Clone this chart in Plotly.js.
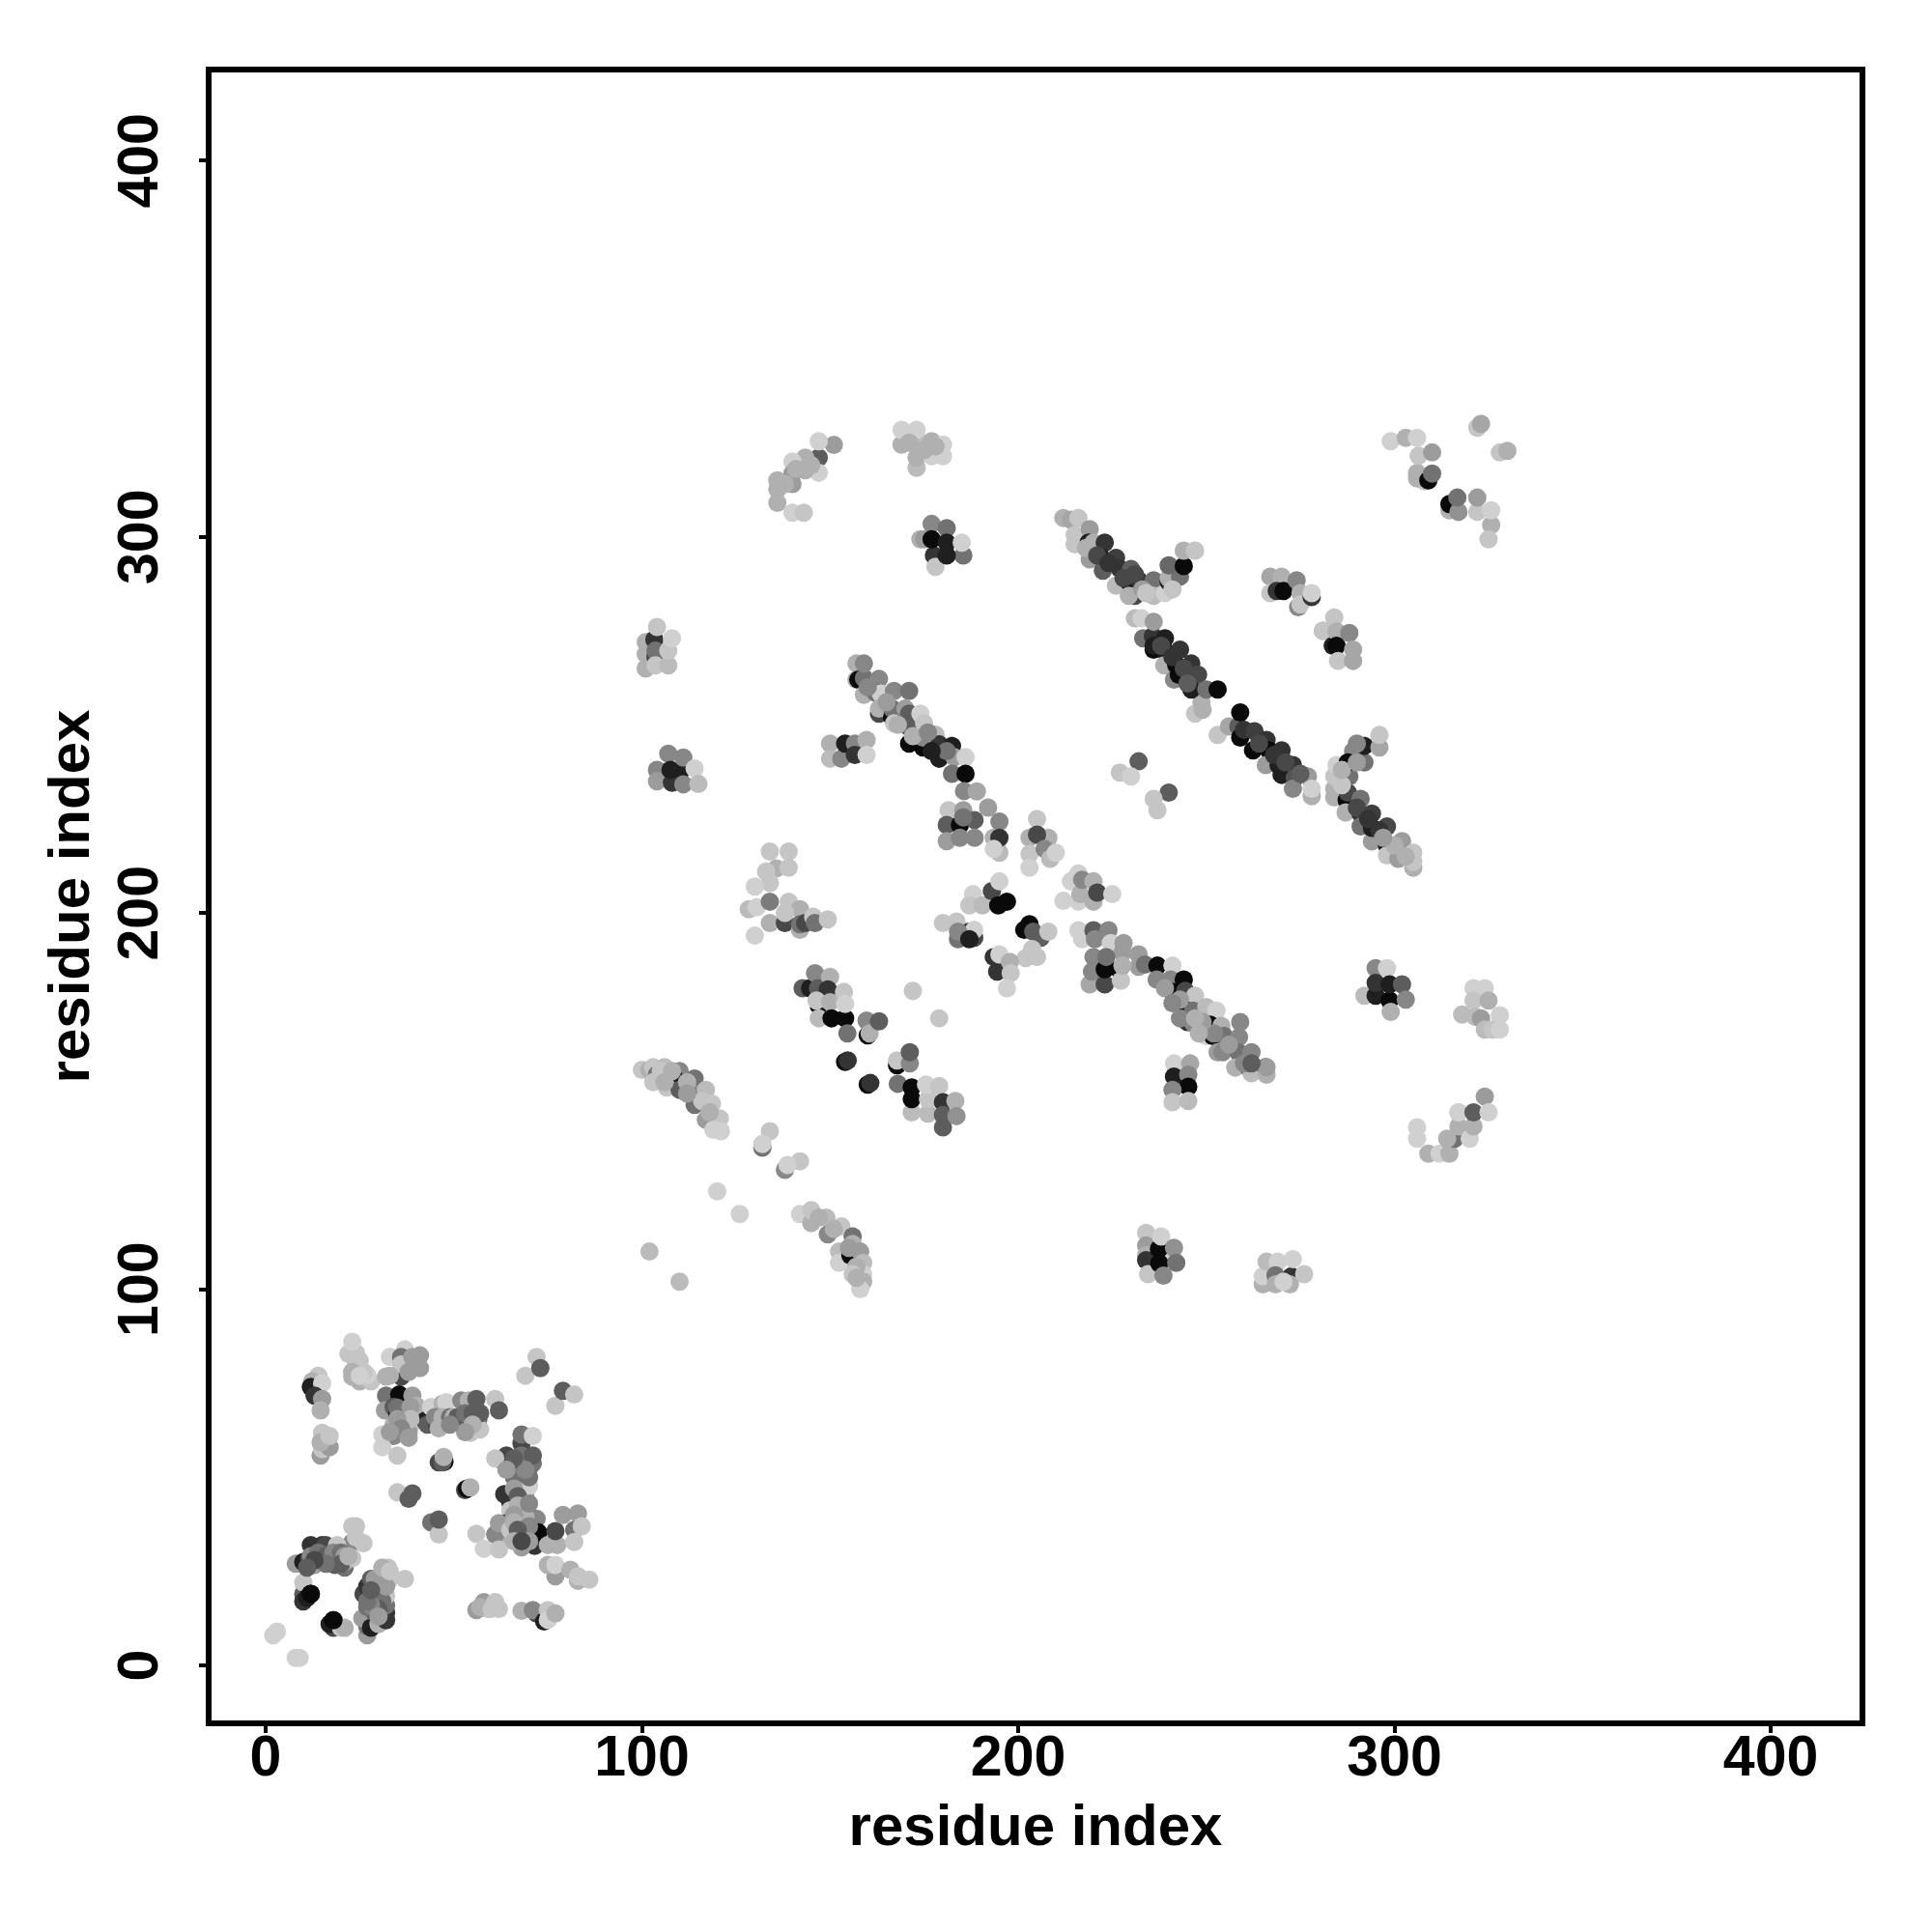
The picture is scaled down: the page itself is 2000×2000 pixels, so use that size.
<!DOCTYPE html>
<html>
<head>
<meta charset="utf-8">
<script src="https://cdn.plot.ly/plotly-3.0.1.min.js"></script>
<style>html,body{margin:0;padding:0;background:#fff}#chart{width:2000px;height:2000px}</style>
</head>
<body>
<div id="chart"></div>
<script>
// Every cluster: residue index on x, residue index on y, shade level (0 darkest .. 10 palest)
const lowA_x=[3,2,9,8, 10,10,10,11,12, 18,17,18,20,21];
const lowA_y=[9,8,2,2, 19,22,17,18,19, 10,11,12,10,10];
const lowA_s=[9.5,9.5,9.5,9.5, 4,9,2,1,0, 3,1,0,9,8];

const lowB_x=[27,27,27,25.7,28,30,29,27,29.5,32,32,32,26,27,29,28,29,31,33,32,37,32.5];
const lowB_y=[8,10.4,12.5,12.5,10,11,14,15.5,16,12,14,16,19,21,18,23,21,24,23,18.5,23,26];
const lowB_s=[7,5,7,7,1,8,4,5,2,2,2,5,3,2,5,4,9,8,9,9,9,9];

const lowC_x=[8,10,11.6,13,14,12,15,16,18.4,21,17,19,23,21,23,19,24,23,26];
const lowC_y=[27,27.5,28.4,26.7,28.4,32,32,32,26.7,26,29,28.4,32.7,27.5,28.5,32,37,37,32.5];
const lowC_s=[7,1,3,7,4,2,2,3,4,5,6,8,6,7,9,9,9,9,9];

const lowD_x=[14,12.4,12,15,13,15,14.6, 14.6,15,17,15,14.6,17];
const lowD_y=[77,75.5,74,75,71.7,70.8,67.8, 55.8,57.5,58,61.8,59.3,61];
const lowD_s=[9,8,1,9.5,2,7,8, 7,9,7,9,8,9];

const lowE_x=[25,28,23,27,22,24,25,23, 32,33,37,36,40.2,39,36,36,41];
const lowE_y=[75.5,75.5,76.8,77.2,82.8,83,81,86, 76.8,82,84,82,79.4,80.6,78,76.8,82.4];
const lowE_s=[8,9,8,9.5,9,9,9,9.5, 8,9.5,9.5,5,3,9,9,3,7];

const lowF_x=[32,35.5,31.7,34,35,38,39,40,34,38,39,38,34,31,31,35];
const lowF_y=[71.7,72,67.8,68.7,67,67.4,71.7,69,64,64,64.4,62,61,61.4,58,55.8];
const lowF_s=[5,0,7,4,1,1,7,8,8,1,9,7,6,9.5,9.5,9];

const lowG_x=[42.4,43,45.4,46,44,47,48,48.4,52,53,54,52,54,56,56,56.5,54.4,57,61,62];
const lowG_y=[65,64,64.4,66,68.7,69.5,70,65.3,66,63.5,64.4,70.4,70.4,68,70.8,65.3,61.8,62.7,70.8,67.8];
const lowG_s=[1,4,3,4,9.5,8,9.5,9,1,1,3,6,8,5,4,5,9,9,9,4];

const lowH_x=[69,72,73,77,79,82, 47.5,46,47,47.3, 53,53.5,54.4, 35,38,39, 44,46,46];
const lowH_y=[77,82,79,69,73,72, 54.1,54,54,55.4, 46.6,47,47.3, 46,44.3,45.7, 38,34.8,38.8];
const lowH_s=[9,9,4,9,4,9, 0,3,4,8, 3,0,8, 9,4,4, 5,9,4];

const lowI_x=[63.4,65,64,68,61,66.4,68,63.4,70,71,68,71,67,69,65,70];
const lowI_y=[54,43.4,55.8,59,55,53.3,55.8,45.5,52.4,53.7,49.4,55.8,48,45.5,41.2,47.7];
const lowI_s=[1,2,3,3,9,2,5,2,6,5,5,4,4,7,9,9.5];
const lowJ_x=[68,71,68,71.5,64,68,64,61,62,65,72,69,72.4,56,58,62,75,77.5];
const lowJ_y=[61.4,61,34.4,31.8,37.8,37,35,34.8,37.8,36,39,39.5,35.4,35,31,30.8,32,32];
const lowJ_s=[5,9.5,2,2,1,1,8,6,7,9,6,8,0,9,9.5,9,8,8];
const lowK_x=[68,77,79,83,82,84,82, 77,75,77,81,83,83,86];
const lowK_y=[31.4,35.7,40,40.4,36,37,32.8, 23.7,26.7,26.7,25.4,22.5,23.7,22.8];
const lowK_s=[7,3,7,7,5,9,9, 7,8,9.5,8,8,9,9];
const lowL_x=[56,58,59,61,62, 68,72,71,74,75,75,77];
const lowL_y=[14.7,16.8,15,16.8,15, 14.5,13.8,14.7,11.7,14.7,12.1,13.8];
const lowL_s=[7,7,9,9,9, 8,3,6,1,9,9.5,8];

const midA_x=[151,147,147,147,143.4,143.4,140,140,140,136,136,136,140,143];
const midA_y=[324.4,321,325.4,317,321,317.7,320,316.8,314,315,312.6,309,306.4,306.4];
const midA_s=[7,4,9.5,9.5,8,8,9.5,7,7,8,8,8,9.5,9];
const midB_x=[169,169,173,173,177,173,173,177,180,180];
const midB_y=[324.5,328.4,325.8,328.4,325.4,318.3,321,321.4,321.4,324.5];
const midB_s=[8,9.5,8.5,9.5,8,8.5,8,9.5,9.5,9.5];
const midC_x=[174,175,177,177.6,177,181,181,185.4,178,181,185];
const midC_y=[299.3,299.3,303.4,295,299.3,302.3,298.4,295,292,295,298.4];
const midC_s=[8,7,6,2,0,5,1,5,9,1,9.5];
const midD_x=[101,101,101,103.3,103.6,103.6,103.6,107,107,104,108];
const midD_y=[265,268.8,272,272.7,268,269.7,265.8,265.8,269.7,276,273];
const midD_s=[8,8,8,2,3,5,9,8.5,9,9,9.5];
const midE_x=[104,104,107,108,107.6,110.4,111,111,114,115];
const midE_y=[238,235,242.3,234.6,238,237.8,241.3,234.2,238.4,234.3];
const midE_s=[6,7,6,2,1,1,6,6,9.5,8.5];
const midF_x=[150,150,153,154,156.6,156.6,159.7,159.7];
const midF_y=[245,241,241,245,245,242,246,242];
const midF_s=[8,8.5,6,1,6,2,8,9.5];

const chainA_x=[157,157,157.5,159,159,159,163,162,163.5,167,171,163,163,166.5,166.5,167,170,171,170.6,171,174.7,174,175,174.7,178,179,179,182.4,183,186];
const chainA_y=[262,266.3,262,262.4,266.3,258,262.2,258.6,258.3,259,259,253,254.3,252,254.3,250.4,254.3,253,249.6,245,244,253,250.4,246.6,247.4,244.8,241,244.4,241.4,241.4];
const chainA_s=[8,8,0,5,6,8,6,5,9.5,6,5,3,8,0,5,9,7,4,4,0,0,9.5,9,6,8.5,2,1,1,7,9.5];
const chainB_x=[182.4,186,185.6,189,192,195,193.5,195,195,193.5];
const chainB_y=[237,237,232.4,232.3,228,224.3,220,216,220,217];
const chainB_s=[5,0,6,7.5,7,6,8,8.5,2,9.5];
const chainC_x=[181.5,185.4,181,184.5,188.4,181,184.5,188.4,185.4];
const chainC_y=[227.3,227.3,223.4,223.4,224.7,219.1,220,220,225.4];
const chainC_s=[9,7,4,0,4,7,6,6,5];
const chainD_x=[205,203,208,203,205,203,207,208.5,210];
const chainD_y=[225,220,220,215.7,220.8,212,217,214.4,216];
const chainD_s=[9,8,8,9,3,9.5,6,8.5,9.5];

const mid2A_x=[134,139,135.7,139,133,134,130,128.4,130.5,134,139,142,134,138,138,142,142,143.4,145.5,146,149.4,130];
const mid2A_y=[216.3,216.3,211.8,212,211,208,207,201,201.5,203,203,201,197.3,197.3,200,195.5,197,197.3,199,197.3,198.3,194];
const mid2A_s=[9,9,8,9,9,9,9.5,8.5,9.5,5.5,9,8,8,3,9,8,5,3,9,5,9,9.5];
const mid2B_x=[142.7,144.7,146,146.8,150,149.4,147,147,146.4,150,150.4,154,153.7,154,154.6,159.7,160,160.5,163];
const mid2B_y=[180,180,184,180,183,179.7,175.4,172,176.7,176.3,172,172,179,175.8,168,171.4,167.5,168,171.2];
const mid2B_s=[4,1,6,4,8,2,0,8.5,9,8,0,0,9,9.5,5,6,0,8,4];
const mid2C_x=[172,179, 154,154.7, 160,160.7, 167.8,167.8,171.2,171.2];
const mid2C_y=[179.3,172, 160.4,160.8, 154.4,154.8, 159.5,160.8,160,163];
const mid2C_s=[9,9, 0,2, 0,2, 0,9,6,4];
const mid2D_x=[168,171.7,171.7,171.7,176,176,175.5,179,180,180,180,183.3,183.6];
const mid2D_y=[154.6,147,150.5,153.6,146.7,150.5,154.4,154,149.7,143,146.3,150,146];
const mid2D_s=[5,8.5,0,0,8.5,9,9.5,9,2,4,4,8,6.5];

const lineA_x=[100,102,103,104,106,110,108.7,106.6,110,114,114,117,114,118.6,117,120.7,119,121];
const lineA_y=[158.3,158.3,159,157,159,158,156,153.6,153,156,152,153,149,149.3,145,145.4,142.4,142];
const lineA_s=[9,8,9,5,8.5,6,1,9,4,5,6,8.5,5,9,7,9,9.5,9.5];
const lineB_x=[134,132,132, 138,142,138.7, 120,126,102,110];
const lineB_y=[142,137.6,138.6, 131.7,134,133, 126,120,110,102];
const lineB_s=[9,5,9.5, 6,9,9.5, 9.5,9.5,8.5,8.5];
const lineC_x=[142,145,145,149,149.4,153,156,152.4,152.4,155.4,156,158,158.8,158.8,158.8,158];
const lineC_y=[120,117.6,121,119,114.6,116.7,114,110,107,109,112,110,107,104,102,100];
const lineC_s=[9.5,8,9,8.5,6,9,5,8.5,9.5,0,8,7,8.5,9.5,8,9.5];

const upperA_x=[180,183.6,184,187,188.3,188.3,184,187];
const upperA_y=[197.3,197.7,193,195,193.4,195.5,195,193];
const upperA_s=[9,9,5,2,3,9.5,6,1];
const upperB_x=[188,187,190.5,193,195,194.7,197];
const upperB_y=[205,202,202,205.8,208.4,202,203];
const upperB_s=[9.5,9,8.5,3,9.5,0,0];
const upperC_x=[201.6,203,204,206,208,202,203.7,205];
const upperC_y=[195.5,197,195,193.4,195,188,190.4,188.3];
const upperC_s=[0,0,4,4,9,9,9,9];
const upperD_x=[193.5,194.4,195,197.8,198,197];
const upperD_y=[188.3,184.4,189,187,184,180];
const upperD_s=[2,2,9.5,8,9,9.5];

const east1_x=[212,214,216,216,216.5,217,220,220,221,225];
const east1_y=[203.2,208.4,210.5,203,205,208.8,208.4,203,205.4,205];
const east1_s=[9.5,9.5,9.5,9.5,8,6,8,8,3,9.5];
const east2_x=[216,217,220,220.4,224,224.6,228,227.7,232,232,233.7,237,241];
const east2_y=[195.4,193,195.4,193,195.4,192,192,189.5,189,185.7,186.3,186,186];
const east2_s=[9.5,9.5,4,6,6,9.5,7,7,7,7,5,0,9.5];
const east3_x=[219,219.6,220,223,223,223.4,226.8,227.3,227.7];
const east3_y=[181,184.4,188.3,181,185,188.3,185,182,186];
const east3_s=[7.5,6,6,3,0,5,0,9,8];
const east4_x=[236.8,240.5,244,241,244.4,247,244,246.5,250,252.7,245,246.5,251,254,259];
const east4_y=[182.3,182.3,182.3,179,179.3,178,174.5,174,175,174,171,170.7,170.3,170,171];
const east4_s=[6,6,0,0,3,9,0,5,8.5,9.5,2,6,0,8,6];
const east5_x=[250,251.7,254.7,258.7,253,254.3,258.5,262,257.7,261.5,262,265.8,266,266];
const east5_y=[167.3,167.3,167.3,167,163,163,163,163,158.9,158.7,157.4,159,157,159];
const east5_s=[9.5,0,5,6,7,6,5,6,8,0,8.5,2,8,7];
const east6_x=[241.4,245.7,241.4,245.2,245.2,241,241,245.2];
const east6_y=[160,160,156.5,157,153.8,153,149.7,150];
const east6_s=[9.5,7.5,1,6,0,6,9,8.5];

const eastB_x=[292,295,295,298.7,295,298,298.7,302,303,299];
const eastB_y=[178,185.3,178,176.7,181.4,185.3,181,181,177,173.7];
const eastB_s=[8.5,6,1,0,2,9.5,1,4,6,8];
const eastC_x=[321,324,321,325,318,321.5,323,324,328,326,328];
const eastC_y=[180,180,176.7,176.7,173,172.4,172,169,172.8,169,169];
const eastC_s=[9.5,9.5,9,8,8.5,8.5,7,8.5,9.5,9,9.5];
const eastD_x=[306,306,309,312,314.6,316,314,317,320,317,321,317,321,324,325];
const eastD_y=[143,140,136,136,136,140,140,143.3,140,147,143.3,147,147,151.2,147];
const eastD_s=[9.5,9.5,8,9.5,8,5,8,8,9.5,9.5,8,9.5,4,7,9.5];
const eastE_x=[234,234,234,234,234.5,239,237.4,237.5,238,238.6,241.4,242];
const eastE_y=[115,111.6,109,107.7,104,107,110.7,106.9,114,103.6,111,107];
const eastE_s=[9,7,8,2,9,9.5,0,0,9.5,6,6.5,5];
const eastF_x=[265,265,266,269,268.4,268.4,272.6,272.2,273,270.5,276];
const eastF_y=[101.3,103.4,107.3,107.3,103.7,101.3,103.4,101.3,108,102,104];
const eastF_s=[8,9.5,8.5,9.5,5,8,2,8,9.5,9.5,9];

const diagA_x=[212,214,216,215,215,219,218.7,220,223,219,222,226,222.5,227,226,230,229.4,232,236,231,229.4,236,239];
const diagA_y=[305,304.5,305,300.5,298,302,298.4,298.4,298.4,294,294.6,294.4,291,291.5,287,291.4,288,288.4,288.4,284.3,284.3,284.3,285];
const diagA_s=[8,7.5,9,9,9,7,1,8,2,7,1,2.5,4,2,8.5,4,0,2,5,3,8,8.5,9.5];
const diagB_x=[240,240,243,240,244,244,247];
const diagB_y=[288,289,289.4,292.4,292.2,296.3,296.3];
const diagB_s=[1,8,5,4.5,0,8,9];
const diagC_x=[231,232.8,233.2,236,235.8,236,239,239,243,238.8,242,241.4,246,242.7,247.8,236];
const diagC_y=[278.3,278.3,273,270,273.6,277.4,273,269.7,270,265.8,265.9,262,266.3,263.3,263.3,271];
const diagC_s=[8.5,9.5,5,0,2,7,1,1,2,8,0,6,2,0,3,1];
const diagD_x=[247,248.7,246,250,253];
const diagD_y=[253,256,259.4,259.4,259.4];
const diagD_s=[9,8,1,5,0];
const diagE_x=[253,256,258.5,259,260,259,262.8,262.4,266,266.6,270,265.8,269.2,273,270,273.5,273,277,278,278];
const diagE_y=[247.3,249.6,249.6,246.6,248.7,253.3,248.3,243.2,246,243.2,243.2,239.3,239.3,239.3,236.7,235.9,233,236.3,231,233];
const diagE_s=[9,7.5,4,0,2,0,2.5,0,2,0,2,7,1,2,1,3.5,6,7,8,9.5];
const diagF_x=[284,284,284,284.6,287.3,287,287.6,288,289,287.6,292,292,296,296];
const diagF_y=[230.7,233,236.3,239.3,230,226.7,232,236.3,243,240,240,244.4,244,247.3];
const diagF_s=[8,8,9,9.5,0,8,3,5,6,0,5,1,7.5,9];
const diagG_x=[291,291,291,294,294,294,298,298,298,301,302,305,305,305];
const diagG_y=[230.3,226.4,223,219,226.4,222.6,218,215.3,223,214.4,219.1,212,213.6,216];
const diagG_s=[5,2,5,7,2.5,1,1,9,3,7,7,8,9,9];

const farA_x=[299,303,306,306,308,306,309,306.4,310,310];
const farA_y=[325.4,326.3,326.3,317,314.7,315.5,315,321.5,322.4,316.8];
const farA_s=[9.5,8,9.5,8,9,8,0,9,7,5];
const farB_x=[322,323,328,330, 314.6,314.6,317,316.7,322,322,325.7,325.7,325];
const farB_y=[329,330,322.4,322.8, 307,308.7,306.6,310.4,306.6,310.4,303.1,307,299.3];
const farB_s=[9,7.5,9,8, 8,0,6.5,5,9,7,8,9.5,9];
const farC_x=[232,227,230, 240,236,237];
const farC_y=[240.3,237.3,236.3, 232,230.3,227.3];
const farC_s=[4,9,9.5, 4,9,9];
const farD_x=[267,270,267,268.7,270.5,274,275,274.4,275,278,278];
const farD_y=[289.4,289.4,285,285.6,285.6,288.4,285,281.3,282,284,285];
const farD_s=[7.5,8,9,2,0,6,8,6,9,2,9.5];
const farE_x=[281,281,284,283.6,284.6,284.6,285,288,289,289];
const farE_y=[275,275,278.5,271,274.8,271,267,274.4,270,267];
const farE_s=[7,9,9,1,8,0,9,6,7.5,7.5];

// contacts in the densest patches, drawn last because they sit over the dark ones
const denseLow_x=[35,38.5,38.5,35,36,38,33,45,47,49,50,51,53,55,57,55,53,46,49,66,66,67,67,66,70,66,70,67,70,66,68,70,69,66,64];
const denseLow_y=[68.5,68.7,65.5,65.5,63,60.5,62,66,66,66,66,66,67,67,67,64,62,63,64,50,47,45,42.5,40,43,38,37,36,33,33,33,50,52,55,52];
const denseLow_s=[5,7,8.5,7,6,7,7,6,8,5,8,4,5,4,4,8,7,8,6,5,7,4,8,7,6,8,6,4,7,8,3,5,6,4,7];
const denseCorner_x=[12,14,16,18,20,21,20,22,16,13,11,24,30,31,30,32,28,30,27,29,28,31,33,24,26,23,25,36,38,41,39,33,57,60];
const denseCorner_y=[29,30,29,30,30,29,27,29,27,28,26,34,20,17,15,21,16,13,17,23,20,26,25,80,78,78,77,80,78,79,82,77,15.5,15];
const denseCorner_s=[6,5,4,6,5,7,4,8,5,3,4,9,8,5,4,7,6,7,5,7,4,8,9,9,9,8,9.5,9,7,7,7,8,8,9];
const denseMid_x=[165,160,168,172,176,181,177,171,175,178,145,141,138,112,116,118,105,108,103,106,112,147,151,155,157,156,157];
const denseMid_y=[256,260,250,247,248,243,243,325,323,324,319,318,314,155,150,147,158,158,155,155,152,119,116,111,106,104,103];
const denseMid_s=[7,6,8,8,6,5,1,8,8,8,8,8,8,8,9,8,9,8,9,8,7,8,8,7,8,9,8];
const denseEast_x=[252,249,256,248,243,243,239,241,247,260,262,238,241,244,245,249,264,268,271,275];
const denseEast_y=[168,171,165,168,177,172,180,176,172,160,160,271,268,265,261,254,245,242,240,237];
const denseEast_s=[6,7,7,8,7,6,7,6,8,6,4,3,2,3,4,8,3,2,3,4];
const denseDiag_x=[290,293,296,300,297,303,286,286,290,290,218,221,224,228,231,233,234,241];
const denseDiag_y=[228,225,222,218,220,215,234,238,240,245,297,295,293,289,290,286,285,286];
const denseDiag_s=[3,2,2,8,7,8,9,8,7,6,8,3,2,3,3,7,9,9];
// fully visible black contacts in the lower corner
const topBlack_x=[12,18];
const topBlack_y=[19,12];
const topBlack_s=[0,0];

const tickValues=[0,100,200,300,400];

const groupsX=[lowA_x,lowB_x,lowC_x,lowD_x,lowE_x,lowF_x,lowG_x,lowH_x,lowI_x,lowJ_x,lowK_x,lowL_x,midA_x,midB_x,midC_x,midD_x,midE_x,midF_x,chainA_x,chainB_x,chainC_x,chainD_x,mid2A_x,mid2B_x,mid2C_x,mid2D_x,lineA_x,lineB_x,lineC_x,upperA_x,upperB_x,upperC_x,upperD_x,east1_x,east2_x,east3_x,east4_x,east5_x,east6_x,eastB_x,eastC_x,eastD_x,eastE_x,eastF_x,diagA_x,diagB_x,diagC_x,diagD_x,diagE_x,diagF_x,diagG_x,farA_x,farB_x,farC_x,farD_x,farE_x,denseLow_x,denseCorner_x,denseMid_x,denseEast_x,denseDiag_x,topBlack_x];
const groupsY=[lowA_y,lowB_y,lowC_y,lowD_y,lowE_y,lowF_y,lowG_y,lowH_y,lowI_y,lowJ_y,lowK_y,lowL_y,midA_y,midB_y,midC_y,midD_y,midE_y,midF_y,chainA_y,chainB_y,chainC_y,chainD_y,mid2A_y,mid2B_y,mid2C_y,mid2D_y,lineA_y,lineB_y,lineC_y,upperA_y,upperB_y,upperC_y,upperD_y,east1_y,east2_y,east3_y,east4_y,east5_y,east6_y,eastB_y,eastC_y,eastD_y,eastE_y,eastF_y,diagA_y,diagB_y,diagC_y,diagD_y,diagE_y,diagF_y,diagG_y,farA_y,farB_y,farC_y,farD_y,farE_y,denseLow_y,denseCorner_y,denseMid_y,denseEast_y,denseDiag_y,topBlack_y];
const groupsS=[lowA_s,lowB_s,lowC_s,lowD_s,lowE_s,lowF_s,lowG_s,lowH_s,lowI_s,lowJ_s,lowK_s,lowL_s,midA_s,midB_s,midC_s,midD_s,midE_s,midF_s,chainA_s,chainB_s,chainC_s,chainD_s,mid2A_s,mid2B_s,mid2C_s,mid2D_s,lineA_s,lineB_s,lineC_s,upperA_s,upperB_s,upperC_s,upperD_s,east1_s,east2_s,east3_s,east4_s,east5_s,east6_s,eastB_s,eastC_s,eastD_s,eastE_s,eastF_s,diagA_s,diagB_s,diagC_s,diagD_s,diagE_s,diagF_s,diagG_s,farA_s,farB_s,farC_s,farD_s,farE_s,denseLow_s,denseCorner_s,denseMid_s,denseEast_s,denseDiag_s,topBlack_s];

const fontFamily='"Liberation Sans", Arial, sans-serif';
const axisCommon={
  showgrid:false,zeroline:false,showline:true,mirror:true,linecolor:'#000',linewidth:6,
  ticks:'outside',ticklen:7,tickwidth:4,tickcolor:'#000',
  tickmode:'array',tickvals:tickValues,ticktext:tickValues.map(String),
  tickfont:{family:fontFamily,size:59,color:'#000',weight:700}
};
const trace={
  type:'scatter',mode:'markers',
  x:groupsX.flat(),y:groupsY.flat(),
  marker:{size:19,color:groupsS.flat(),cmin:0,cmax:10,showscale:false,
    colorscale:[[0,'#0a0a0a'],[1,'#dadada']],line:{width:0},opacity:1},
  hoverinfo:'x+y'
};
const layout={
  width:2000,height:2000,paper_bgcolor:'#fff',plot_bgcolor:'#fff',showlegend:false,
  margin:{l:219,r:75,t:75,b:219,pad:0},
  xaxis:Object.assign({},axisCommon,{range:[-14.38,423.6],automargin:false,ticklabelstandoff:-27,
    title:{text:'residue index',standoff:20,font:{family:fontFamily,size:60,color:'#000',weight:700}}}),
  yaxis:Object.assign({},axisCommon,{range:[-14.63,423.4],automargin:false,tickangle:-90,ticklabelstandoff:19,ticklabelshift:9,
    title:{text:'residue index',standoff:0,font:{family:fontFamily,size:60,color:'#000',weight:700}}})
};
Plotly.newPlot('chart',[trace],layout,{displayModeBar:false,staticPlot:true});
</script>
</body>
</html>
